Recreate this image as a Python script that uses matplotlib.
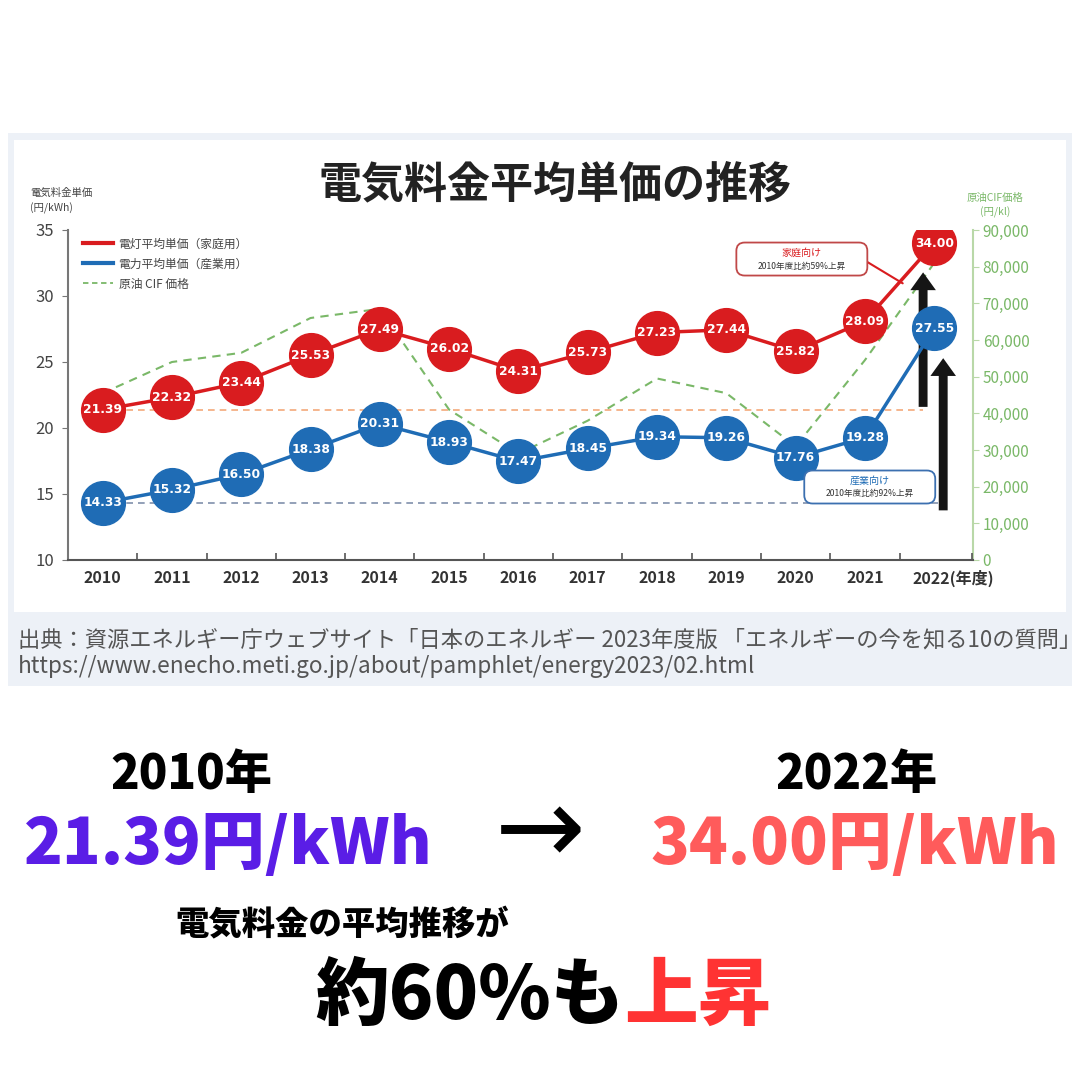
import matplotlib
matplotlib.use("Agg")
import matplotlib.pyplot as plt
from matplotlib.patches import Rectangle, FancyBboxPatch
from matplotlib.lines import Line2D
from matplotlib.transforms import ScaledTranslation

plt.rcParams['font.family'] = ['Noto Sans CJK JP', 'DejaVu Sans']

# ---------------- data ----------------
years = [2010, 2011, 2012, 2013, 2014, 2015, 2016, 2017, 2018, 2019, 2020, 2021, 2022]
household = [21.39, 22.32, 23.44, 25.53, 27.49, 26.02, 24.31, 25.73, 27.23, 27.44, 25.82, 28.09, 34.00]
industrial = [14.33, 15.32, 16.50, 18.38, 20.31, 18.93, 17.47, 18.45, 19.34, 19.26, 17.76, 19.28, 27.55]
crude_cif = [45500, 54000, 56500, 66000, 68500, 41000, 29000, 38000, 49500, 45500, 31000, 54500, 81000]
xlabels = ['2010', '2011', '2012', '2013', '2014', '2015', '2016', '2017', '2018', '2019', '2020', '2021', '2022(年度)']
left_ticks = [10, 15, 20, 25, 30, 35]
right_ticks = [0, 10000, 20000, 30000, 40000, 50000, 60000, 70000, 80000, 90000]
legend_labels = ['電灯平均単価（家庭用）', '電力平均単価（産業用）', '原油 CIF 価格']

RED = '#d91c1f'
BLUE = '#1f6cb5'
GREEN = '#7ab868'
ORANGE = '#f3a97a'
GRAYBLUE = '#8090ac'

W = H = 1080
fig = plt.figure(figsize=(10.8, 10.8), dpi=100)
fig.patch.set_facecolor('white')

def fx(px):
    return px / W

def fy(py):
    return 1 - py / H

# panels
fig.patches.append(Rectangle((fx(8), fy(686)), fx(1064), (686 - 133) / H,
                             transform=fig.transFigure, facecolor='#edf1f7', edgecolor='none', zorder=-2))
fig.patches.append(Rectangle((fx(14), fy(612)), fx(1052), (612 - 140) / H,
                             transform=fig.transFigure, facecolor='white', edgecolor='none', zorder=-1))

# axes
ax = fig.add_axes([fx(68), fy(560), fx(905), 330 / H])
ax2 = ax.twinx()
ax.set_zorder(ax2.get_zorder() + 1)
ax.patch.set_visible(False)
ax2.patch.set_visible(False)

ax.set_xlim(2009.5, 2022.56)
ax.set_ylim(10, 35)
ax2.set_ylim(0, 90000)

for s in ['top', 'right']:
    ax.spines[s].set_visible(False)
for s in ['top', 'left', 'bottom']:
    ax2.spines[s].set_visible(False)
ax.spines['left'].set_color('#777777')
ax.spines['bottom'].set_color('#555555')
ax.spines['left'].set_linewidth(1.5)
ax.spines['bottom'].set_linewidth(1.5)
ax2.spines['right'].set_color('#b9d8a8')
ax2.spines['right'].set_linewidth(1.5)

ax.set_yticks(left_ticks)
ax.set_yticklabels([str(v) for v in left_ticks], fontsize=12, color='#444444')
ax.tick_params(axis='y', length=4, color='#777777', pad=6)
ax.set_xticks(years)
ax.set_xticklabels(xlabels, fontsize=11.5, color='#333333', fontweight='bold')
ax.tick_params(axis='x', which='major', length=0, pad=7)
ax.set_xticks([y + 0.5 for y in years[:-1]] + [2022.55], minor=True)
ax.tick_params(axis='x', which='minor', direction='in', length=5, color='#555555', width=1.2)
last = ax.get_xticklabels()[-1]
last.set_horizontalalignment('left')
last.set_transform(last.get_transform() + ScaledTranslation(-0.22, 0, fig.dpi_scale_trans))

ax2.set_yticks(right_ticks)
ax2.set_yticklabels([f"{v:,}" for v in right_ticks], fontsize=11, color=GREEN)
ax2.tick_params(axis='y', length=4, color='#b9d8a8', pad=3)

# crude oil CIF
ax2.plot(years, crude_cif, color=GREEN, lw=1.5, ls=(0, (4, 3)), zorder=1)

# reference levels
ax.plot([years[0], 2021.84], [household[0], household[0]], color=ORANGE, lw=1.2, ls=(0, (4, 3)), zorder=2)
ax.plot([years[0], 2022.13], [industrial[0], industrial[0]], color=GRAYBLUE, lw=1.2, ls=(0, (4, 3)), zorder=2)

# series
ms = 31.5
ax.plot(years, household, color=RED, lw=2.5, marker='o', ms=ms, mec=RED, mfc=RED, zorder=5)
ax.plot(years, industrial, color=BLUE, lw=2.5, marker='o', ms=ms, mec=BLUE, mfc=BLUE, zorder=5)
for x, v in zip(years, household):
    ax.text(x, v, f"{v:.2f}", color='white', fontsize=8.8, fontweight='bold', ha='center', va='center',
            family=['DejaVu Sans'], zorder=6)
for x, v in zip(years, industrial):
    ax.text(x, v, f"{v:.2f}", color='white', fontsize=8.8, fontweight='bold', ha='center', va='center',
            family=['DejaVu Sans'], zorder=6)

# arrows
arrow_style = 'simple,tail_width=0.4,head_width=1.15,head_length=0.8'
ax.annotate('', xy=(2021.84, 32.0), xytext=(2021.84, household[0]),
            arrowprops=dict(arrowstyle=arrow_style, color='#151515', mutation_scale=16, lw=0), zorder=4)
ax.annotate('', xy=(2022.13, 25.5), xytext=(2022.13, 13.55),
            arrowprops=dict(arrowstyle=arrow_style, color='#151515', mutation_scale=16, lw=0), zorder=4)

# callouts
def callout(cx, cy, title, sub, tcolor, ecolor):
    w, h = 1.89, 2.5
    box = FancyBboxPatch((cx - w / 2, cy - h / 2), w, h, boxstyle='round,pad=0,rounding_size=0.12',
                         mutation_aspect=5.25, fc='white', ec=ecolor, lw=1.3, zorder=7)
    ax.add_patch(box)
    ax.annotate(title, (cx, cy), xytext=(0, 4.8), textcoords='offset points', fontsize=7.2,
                color=tcolor, ha='center', va='center', zorder=8)
    ax.annotate(sub, (cx, cy), xytext=(0, -5.0), textcoords='offset points',
                fontsize=6.2, color='#333333', ha='center', va='center', zorder=8)

ax.annotate('', xy=(2021.58, 30.85), xytext=(2020.98, 32.75),
            arrowprops=dict(arrowstyle='-', color=RED, lw=1.5), zorder=3)
callout(2020.09, 32.8, "家庭向け", "2010年度比約59%上昇", RED, '#c04848')
callout(2021.07, 15.53, "産業向け", "2010年度比約92%上昇", BLUE, '#3c70b0')

# legend
handles = [Line2D([], [], color=RED, lw=3), Line2D([], [], color=BLUE, lw=3),
           Line2D([], [], color=GREEN, lw=1.3, ls=(0, (3, 2)))]
leg = ax.legend(handles, legend_labels, loc='upper left', bbox_to_anchor=(0.005, 1.01), frameon=False,
                fontsize=8.5, handlelength=2.5, handletextpad=0.5, labelspacing=0.6)
for t in leg.get_texts():
    t.set_color('#444444')

# axis labels
fig.text(fx(30), fy(188), "電気料金単価\n(円/kWh)", fontsize=7.5, color='#444444', ha='left', va='top',
         linespacing=1.5)
fig.text(fx(995), fy(193), "原油CIF価格\n(円/kl)", fontsize=7.5, color=GREEN, ha='center', va='top',
         linespacing=1.45)

# title
fig.text(fx(555), fy(184), "電気料金平均単価の推移", fontsize=31, fontweight='bold', color='#222222',
         ha='center', va='center')

# source
fig.text(fx(18), fy(640), "出典：資源エネルギー庁ウェブサイト「日本のエネルギー 2023年度版 「エネルギーの今を知る10の質問」",
         fontsize=16, color='#555555', ha='left', va='center')
fig.text(fx(18), fy(667), "https://www.enecho.meti.go.jp/about/pamphlet/energy2023/02.html",
         fontsize=16.3, color='#555555', ha='left', va='center')

# bottom summary
BW = 'heavy'
fig.text(fx(191), fy(775), "2010年", fontsize=34, fontweight=BW, color='black', ha='center', va='center')
fig.text(fx(856), fy(775), "2022年", fontsize=34, fontweight=BW, color='black', ha='center', va='center')
fig.text(fx(228), fy(845), "21.39円/kWh", fontsize=46, fontweight=BW, color='#5a1de6', ha='center', va='center')
fig.text(fx(855), fy(845), "34.00円/kWh", fontsize=46, fontweight=BW, color='#ff5b5b', ha='center', va='center')
fig.text(fx(540), fy(833), "→", fontsize=78, color='black', ha='center', va='center', family=['DejaVu Sans'])
fig.text(fx(342), fy(925), "電気料金の平均推移が", fontsize=24, fontweight=BW, color='black',
         ha='center', va='center')
t1 = fig.text(fx(315), fy(997), "約60%も", fontsize=53, fontweight=BW, color='black', ha='left', va='center')
fig.canvas.draw()
bb = t1.get_window_extent()
fig.text(bb.x1 / W, fy(997), "上昇", fontsize=53, fontweight=BW, color='#ff3333', ha='left', va='center')

fig.savefig('out.png', dpi=100, facecolor='white')
